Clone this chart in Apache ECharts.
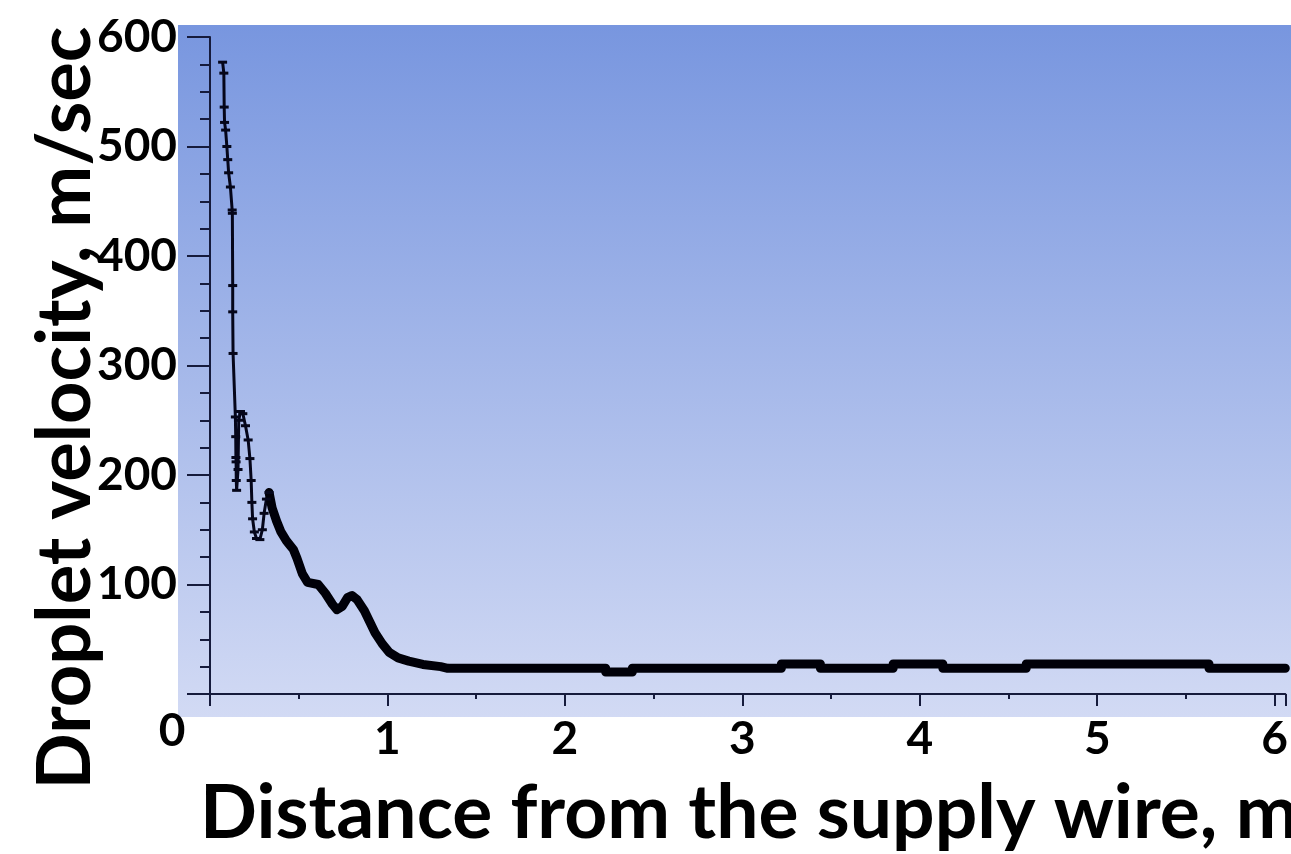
<!DOCTYPE html>
<html>
<head>
<meta charset="utf-8">
<title>Droplet velocity</title>
<script src="https://cdn.jsdelivr.net/npm/echarts/dist/echarts.min.js"></script>
<style>
html, body { margin: 0; padding: 0; background: #ffffff; }
#main { width: 1291px; height: 854px; }
</style>
</head>
<body>
<div id="main"></div>
<script>
// axis settings
var xTicks = [0, 1, 2, 3, 4, 5, 6];
var yTicks = [0, 100, 200, 300, 400, 500, 600];
var xMax = 6.06;

// first part of the curve, the spiky region near the wire (distance m, velocity m/s)
var nearWire = [
	[0.071, 577], [0.078, 567], [0.080, 536], [0.082, 522], [0.088, 515],
	[0.095, 500], [0.100, 488], [0.105, 476], [0.115, 463], [0.125, 442],
	[0.126, 439], [0.128, 373], [0.128, 349], [0.130, 311], [0.143, 253],
	[0.145, 235], [0.146, 216], [0.147, 212], [0.148, 195], [0.150, 186],
	[0.158, 205], [0.162, 250], [0.172, 258], [0.185, 256], [0.200, 245],
	[0.215, 232], [0.225, 215], [0.232, 195], [0.236, 175], [0.240, 160],
	[0.250, 148], [0.262, 142], [0.281, 141], [0.295, 150], [0.305, 165],
	[0.318, 178], [0.333, 184]
];

// rest of the curve, decay and the flat part
var farField = [
	[0.333, 184], [0.350, 170], [0.375, 158], [0.400, 148], [0.430, 140],
	[0.450, 136], [0.470, 132], [0.490, 124], [0.520, 110], [0.550, 102],
	[0.610, 100], [0.650, 92], [0.690, 82], [0.715, 77], [0.745, 80],
	[0.775, 88], [0.800, 90], [0.830, 86], [0.870, 76], [0.900, 66],
	[0.930, 56], [0.970, 46], [1.010, 38], [1.060, 33], [1.120, 30],
	[1.200, 27], [1.300, 25], [1.340, 23.5],
	[2.230, 23.5], [2.230, 20], [2.380, 20], [2.380, 23.5],
	[3.220, 23.5], [3.220, 27.5], [3.440, 27.5], [3.440, 23.5],
	[3.850, 23.5], [3.850, 27.5], [4.130, 27.5], [4.130, 23.5],
	[4.600, 23.5], [4.600, 27.5], [5.630, 27.5], [5.630, 23.5],
	[6.060, 23.5]
];

var xTitle = 'Distance from the supply wire, m';
var yTitle = 'Droplet velocity, m/sec';
var originLabel = '0';

var axisColor = '#161b3c';
var fontName = 'Lato';

var myChart = echarts.init(document.getElementById('main'));
var opt = {
	animation: false,
	grid: {
		left: 210,
		top: 37,
		right: 0,
		bottom: 160
	},
	xAxis: {
		type: 'value',
		min: xTicks[0],
		max: xMax,
		interval: xTicks[1] - xTicks[0],
		axisLine: { show: true, onZero: false, lineStyle: { color: axisColor, width: 2 } },
		axisTick: { show: true, inside: false, length: 12, lineStyle: { color: axisColor, width: 2 } },
		minorTick: { show: true, splitNumber: 2, length: 5, lineStyle: { color: axisColor, width: 2 } },
		splitLine: { show: false },
		axisLabel: {
			margin: 22,
			showMinLabel: false,
			showMaxLabel: false,
			color: '#000',
			fontFamily: fontName,
			fontWeight: 'bold',
			fontSize: 46,
			formatter: function (value) {
				return xTicks.indexOf(value) >= 0 ? String(value) : '';
			}
		}
	},
	yAxis: {
		type: 'value',
		min: yTicks[0],
		max: yTicks[yTicks.length - 1],
		interval: yTicks[1] - yTicks[0],
		axisLine: { show: true, onZero: false, lineStyle: { color: axisColor, width: 2 } },
		axisTick: { show: true, inside: false, length: 23, lineStyle: { color: axisColor, width: 2 } },
		minorTick: { show: true, splitNumber: 4, length: 10, lineStyle: { color: axisColor, width: 2 } },
		splitLine: { show: false },
		axisLabel: {
			margin: 33,
			showMinLabel: false,
			color: '#000',
			fontFamily: fontName,
			fontWeight: 'bold',
			fontSize: 46
		}
	},
	graphic: [
		{
			// gradient panel behind the plot
			type: 'rect',
			z: -10,
			silent: true,
			shape: { x: 178, y: 25, width: 1113, height: 692 },
			style: {
				fill: new echarts.graphic.LinearGradient(0, 0, 0, 1, [
					{ offset: 0, color: '#7896df' },
					{ offset: 1, color: '#d2daf4' }
				])
			}
		},
		{
			type: 'text',
			z: 10,
			x: 172,
			y: 731,
			style: {
				text: originLabel,
				fill: '#000',
				font: 'bold 46px ' + fontName,
				textAlign: 'center',
				textVerticalAlign: 'middle'
			}
		},
		{
			type: 'text',
			z: 10,
			x: 200,
			y: 814,
			style: {
				text: xTitle,
				fill: '#000',
				font: 'bold 75px ' + fontName,
				textAlign: 'left',
				textVerticalAlign: 'middle'
			}
		},
		{
			type: 'text',
			z: 10,
			x: 66,
			y: 408,
			rotation: Math.PI / 2,
			style: {
				text: yTitle,
				fill: '#000',
				font: 'bold 74px ' + fontName,
				textAlign: 'center',
				textVerticalAlign: 'middle'
			}
		}
	],
	series: [
		{
			type: 'line',
			data: nearWire,
			symbol: 'rect',
			symbolSize: [9, 3],
			showSymbol: true,
			itemStyle: { color: '#05061a' },
			lineStyle: { color: '#05061a', width: 3 },
			z: 3
		},
		{
			type: 'line',
			data: farField,
			symbol: 'none',
			lineStyle: { color: '#000008', width: 9, join: 'round', cap: 'round' },
			z: 3
		}
	]
};
myChart.setOption(opt);
</script>
</body>
</html>
